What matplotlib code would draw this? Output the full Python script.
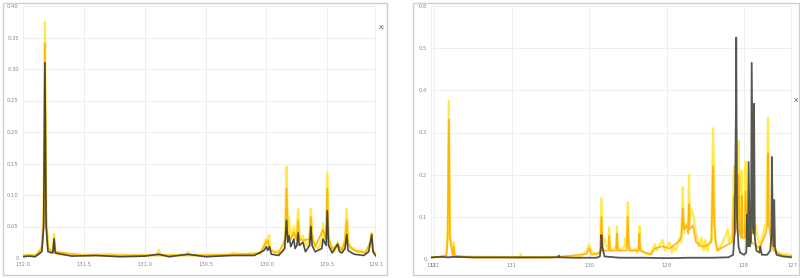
import matplotlib
matplotlib.use("Agg")
import matplotlib.pyplot as plt
from matplotlib.patches import Rectangle

# ---------------- Left panel data (ppm, intensity) ----------------
left_pale_x = [132.00, 131.95, 131.90, 131.87, 131.845, 131.83, 131.82, 131.81, 131.795, 131.77,
               131.755, 131.745, 131.735, 131.72, 131.60, 131.50, 131.30, 131.10, 130.90, 130.885,
               130.87, 130.66, 130.645, 130.63, 130.30, 130.28, 130.20, 130.05, 130.02, 130.005,
               129.995, 129.98, 129.97, 129.93, 129.905, 129.89, 129.86, 129.845, 129.835, 129.825,
               129.815, 129.805, 129.79, 129.775, 129.765, 129.75, 129.74, 129.73, 129.72, 129.70,
               129.68, 129.66, 129.645, 129.635, 129.625, 129.615, 129.60, 129.57, 129.545, 129.535,
               129.525, 129.51, 129.50, 129.49, 129.48, 129.46, 129.44, 129.415, 129.40, 129.38,
               129.355, 129.34, 129.33, 129.31, 129.28, 129.25, 129.22, 129.19, 129.16, 129.145,
               129.135, 129.125, 129.11, 129.10]
left_pale_y = [0.004, 0.005, 0.004, 0.006, 0.020, 0.080, 0.375, 0.080, 0.020, 0.008,
               0.012, 0.038, 0.012, 0.006, 0.005, 0.005, 0.006, 0.004, 0.005, 0.013,
               0.005, 0.005, 0.010, 0.005, 0.005, 0.008, 0.006, 0.008, 0.020, 0.030,
               0.022, 0.036, 0.015, 0.008, 0.012, 0.007, 0.012, 0.040, 0.145, 0.050,
               0.065, 0.040, 0.035, 0.050, 0.030, 0.040, 0.078, 0.040, 0.030, 0.035,
               0.020, 0.020, 0.035, 0.078, 0.040, 0.030, 0.020, 0.015, 0.030, 0.055,
               0.030, 0.040, 0.135, 0.040, 0.025, 0.015, 0.010, 0.025, 0.012, 0.015,
               0.030, 0.078, 0.030, 0.015, 0.015, 0.010, 0.012, 0.008, 0.015, 0.030,
               0.040, 0.015, 0.006, 0.004]
left_gold_x = [132.00, 131.90, 131.845, 131.83, 131.82, 131.81, 131.795, 131.755, 131.745, 131.735,
               131.50, 131.00, 130.50, 130.05, 130.01, 129.99, 129.97, 129.90, 129.845, 129.835,
               129.825, 129.80, 129.775, 129.75, 129.74, 129.73, 129.70, 129.645, 129.635, 129.625,
               129.60, 129.535, 129.51, 129.50, 129.49, 129.46, 129.415, 129.38, 129.355, 129.34,
               129.33, 129.28, 129.19, 129.145, 129.135, 129.125, 129.10]
left_gold_y = [0.004, 0.004, 0.015, 0.060, 0.340, 0.060, 0.015, 0.010, 0.032, 0.010,
               0.004, 0.004, 0.004, 0.007, 0.022, 0.028, 0.012, 0.008, 0.030, 0.110,
               0.040, 0.030, 0.040, 0.030, 0.060, 0.030, 0.028, 0.030, 0.065, 0.030,
               0.018, 0.045, 0.030, 0.110, 0.030, 0.014, 0.022, 0.012, 0.025, 0.060,
               0.022, 0.012, 0.008, 0.025, 0.038, 0.012, 0.004]
left_dark_x = [132.00, 131.95, 131.90, 131.845, 131.83, 131.82, 131.81, 131.795, 131.755, 131.745,
               131.735, 131.60, 131.40, 131.20, 131.00, 130.885, 130.80, 130.645, 130.50, 130.28,
               130.10, 130.02, 130.00, 129.99, 129.975, 129.96, 129.90, 129.85, 129.835, 129.825,
               129.815, 129.80, 129.775, 129.765, 129.75, 129.74, 129.73, 129.70, 129.68, 129.645,
               129.635, 129.625, 129.60, 129.545, 129.535, 129.51, 129.50, 129.49, 129.46, 129.415,
               129.40, 129.38, 129.355, 129.34, 129.33, 129.28, 129.20, 129.16, 129.135, 129.125,
               129.10]
left_dark_y = [0.002, 0.003, 0.002, 0.010, 0.050, 0.310, 0.050, 0.010, 0.008, 0.030,
               0.008, 0.003, 0.004, 0.002, 0.003, 0.006, 0.002, 0.006, 0.002, 0.004,
               0.004, 0.012, 0.018, 0.012, 0.018, 0.006, 0.004, 0.015, 0.060, 0.025,
               0.035, 0.018, 0.030, 0.015, 0.020, 0.040, 0.020, 0.025, 0.010, 0.020,
               0.050, 0.020, 0.010, 0.015, 0.030, 0.020, 0.075, 0.020, 0.008, 0.022,
               0.010, 0.008, 0.015, 0.037, 0.012, 0.006, 0.004, 0.010, 0.037, 0.010,
               0.003]

left_xticks = [132.0, 131.5, 131.0, 130.5, 130.0, 129.5, 129.1]
left_xlabels = ["132.0", "131.5", "131.0", "130.5", "130.0", "129.5", "129.1"]
left_yticks = [0, 0.05, 0.10, 0.15, 0.20, 0.25, 0.30, 0.35, 0.40]
left_ylabels = ["0", "0.05", "0.10", "0.15", "0.20", "0.25", "0.30", "0.35", "0.40"]

# ---------------- Right panel data ----------------
right_pale_x = [132.04, 131.90, 131.84, 131.825, 131.81, 131.795, 131.76, 131.745, 131.735, 131.70,
                131.20, 130.89, 130.88, 130.87, 130.50, 130.10, 130.03, 130.00, 129.97, 129.90,
                129.855, 129.84, 129.825, 129.80, 129.78, 129.75, 129.74, 129.73, 129.70, 129.65,
                129.64, 129.63, 129.60, 129.54, 129.53, 129.515, 129.50, 129.485, 129.45, 129.40,
                129.38, 129.36, 129.35, 129.34, 129.30, 129.25, 129.20, 129.15, 129.13, 129.10,
                129.05, 129.02, 128.96, 128.93, 128.92, 128.88, 128.83, 128.81, 128.79, 128.775,
                128.75, 128.72, 128.71, 128.70, 128.68, 128.65, 128.62, 128.58, 128.55, 128.52,
                128.50, 128.47, 128.46, 128.42, 128.40, 128.385, 128.37, 128.33, 128.30, 128.25,
                128.21, 128.19, 128.15, 128.13, 128.115, 128.085, 128.07, 128.055, 128.035, 128.03,
                128.02, 127.99, 127.98, 127.965, 127.93, 127.90, 127.85, 127.80, 127.75, 127.73,
                127.71, 127.69, 127.67, 127.65, 127.60, 127.55, 127.50, 127.45, 127.38]
right_pale_y = [0.004, 0.005, 0.010, 0.060, 0.375, 0.060, 0.010, 0.040, 0.010, 0.006,
                0.005, 0.004, 0.012, 0.004, 0.005, 0.006, 0.020, 0.035, 0.018, 0.010,
                0.020, 0.145, 0.030, 0.050, 0.030, 0.030, 0.075, 0.030, 0.020, 0.030,
                0.077, 0.030, 0.020, 0.030, 0.050, 0.030, 0.135, 0.030, 0.020, 0.025,
                0.015, 0.030, 0.078, 0.030, 0.015, 0.012, 0.015, 0.035, 0.020, 0.030,
                0.045, 0.020, 0.040, 0.015, 0.030, 0.020, 0.050, 0.040, 0.170, 0.060,
                0.080, 0.090, 0.200, 0.090, 0.120, 0.100, 0.060, 0.030, 0.050, 0.020,
                0.045, 0.020, 0.030, 0.050, 0.310, 0.200, 0.040, 0.020, 0.030, 0.050,
                0.070, 0.040, 0.060, 0.220, 0.080, 0.100, 0.280, 0.080, 0.060, 0.210,
                0.060, 0.070, 0.230, 0.060, 0.040, 0.060, 0.080, 0.030, 0.060, 0.080,
                0.080, 0.335, 0.100, 0.040, 0.020, 0.015, 0.010, 0.012, 0.008]
right_gold_x = [132.04, 131.84, 131.825, 131.81, 131.795, 131.76, 131.745, 131.735, 131.50, 130.50,
                130.03, 130.00, 129.97, 129.855, 129.84, 129.825, 129.75, 129.74, 129.73, 129.65,
                129.64, 129.63, 129.515, 129.50, 129.485, 129.36, 129.35, 129.34, 129.20, 129.15,
                129.05, 128.96, 128.85, 128.81, 128.79, 128.775, 128.74, 128.72, 128.71, 128.70,
                128.66, 128.62, 128.55, 128.50, 128.42, 128.40, 128.385, 128.35, 128.25, 128.15,
                128.13, 128.115, 128.085, 128.07, 128.055, 128.035, 128.03, 128.02, 127.99, 127.98,
                127.965, 127.90, 127.80, 127.72, 127.70, 127.69, 127.68, 127.62, 127.50, 127.38]
right_gold_y = [0.003, 0.008, 0.050, 0.330, 0.050, 0.008, 0.030, 0.008, 0.003, 0.003,
                0.012, 0.025, 0.010, 0.015, 0.100, 0.020, 0.020, 0.055, 0.020, 0.020,
                0.060, 0.020, 0.020, 0.100, 0.020, 0.020, 0.060, 0.020, 0.010, 0.025,
                0.030, 0.025, 0.040, 0.050, 0.120, 0.070, 0.080, 0.060, 0.130, 0.070,
                0.080, 0.040, 0.030, 0.030, 0.040, 0.220, 0.080, 0.020, 0.030, 0.040,
                0.150, 0.060, 0.080, 0.200, 0.060, 0.050, 0.150, 0.050, 0.050, 0.160,
                0.050, 0.040, 0.025, 0.060, 0.080, 0.250, 0.080, 0.020, 0.008, 0.006]
right_dark_x = [132.04, 131.90, 131.82, 131.75, 131.50, 131.20, 130.90, 130.60, 130.40, 130.39,
                130.38, 130.20, 130.00, 129.90, 129.86, 129.845, 129.84, 129.83, 129.80, 129.60,
                129.30, 129.00, 128.70, 128.40, 128.20, 128.14, 128.12, 128.105, 128.10, 128.09,
                128.07, 128.05, 128.00, 127.97, 127.96, 127.95, 127.94, 127.925, 127.91, 127.90,
                127.885, 127.875, 127.87, 127.86, 127.84, 127.80, 127.79, 127.77, 127.70, 127.66,
                127.645, 127.64, 127.625, 127.615, 127.61, 127.60, 127.58, 127.50, 127.38]
right_dark_y = [0.004, 0.005, 0.004, 0.005, 0.004, 0.004, 0.004, 0.004, 0.004, 0.008,
                0.004, 0.003, 0.003, 0.003, 0.006, 0.030, 0.057, 0.030, 0.006, 0.003,
                0.003, 0.002, 0.003, 0.003, 0.004, 0.010, 0.065, 0.330, 0.525, 0.100,
                0.030, 0.015, 0.010, 0.015, 0.105, 0.030, 0.230, 0.030, 0.040, 0.465,
                0.080, 0.060, 0.368, 0.050, 0.020, 0.015, 0.030, 0.010, 0.010, 0.020,
                0.060, 0.242, 0.050, 0.030, 0.140, 0.030, 0.010, 0.006, 0.004]

right_xticks = [132.04, 132, 131, 130, 129, 128, 127.38]
right_xlabels = ["132", "132", "131", "130", "129", "128", "127"]
right_yticks = [0, 0.1, 0.2, 0.3, 0.4, 0.5, 0.6]
right_ylabels = ["0", "0.1", "0.2", "0.3", "0.4", "0.5", "0.6"]

W, H = 800, 278
fig = plt.figure(figsize=(W / 100, H / 100), dpi=100)
fig.patch.set_facecolor("white")

# outer panel frames
for (x0, x1) in [(3, 387), (413, 799)]:
    fig.patches.append(Rectangle((x0 / W, 3 / H), (x1 - x0) / W, (275 - 3) / H,
                                 transform=fig.transFigure, fill=False,
                                 edgecolor="#cfcfcf", linewidth=1.0))

def style(ax, xlim, ylim, xt, xl, yt, yl):
    ax.set_xlim(*xlim)
    ax.set_ylim(*ylim)
    ax.set_xticks(xt)
    ax.set_xticklabels(xl)
    ax.set_yticks(yt)
    ax.set_yticklabels(yl)
    for s in ax.spines.values():
        s.set_visible(False)
    ax.grid(True, color="#eeeeee", linewidth=0.7)
    ax.set_axisbelow(True)
    ax.tick_params(length=0, labelsize=3.8, colors="#8a8a8a", pad=3)

axL = fig.add_axes([23 / W, 1 - 258 / H, (376 - 23) / W, (258 - 6) / H])
style(axL, (132.0, 129.1), (0, 0.40), left_xticks, left_xlabels, left_yticks, left_ylabels)
axL.plot(left_pale_x, left_pale_y, color="#ffe94d", lw=1.7)
axL.plot(left_gold_x, left_gold_y, color="#ffb300", lw=1.3, alpha=0.9)
axL.plot(left_dark_x, left_dark_y, color="#3a3a33", lw=1.2, alpha=0.9)
axL.axvline(129.1, color="#ff9a9a", lw=1.0)

axR = fig.add_axes([431 / W, 1 - 259 / H, (792 - 431) / W, (259 - 6) / H])
style(axR, (132.04, 127.38), (0, 0.6), right_xticks, right_xlabels, right_yticks, right_ylabels)
axR.plot(right_pale_x, right_pale_y, color="#ffe94d", lw=1.6)
axR.plot(right_gold_x, right_gold_y, color="#ffaa00", lw=1.2, alpha=0.85)
axR.plot(right_dark_x, right_dark_y, color="#3a3a33", lw=1.3, alpha=0.85)
axR.axvline(127.38, color="#ff9a9a", lw=1.0)

fig.text(379 / W, 1 - 27 / H, "X:", fontsize=4.5, color="#444444", ha="left", va="center")
fig.text(794 / W, 1 - 101 / H, "X", fontsize=4.5, color="#444444", ha="left", va="center")

fig.savefig("out.png", dpi=100, facecolor="white")
